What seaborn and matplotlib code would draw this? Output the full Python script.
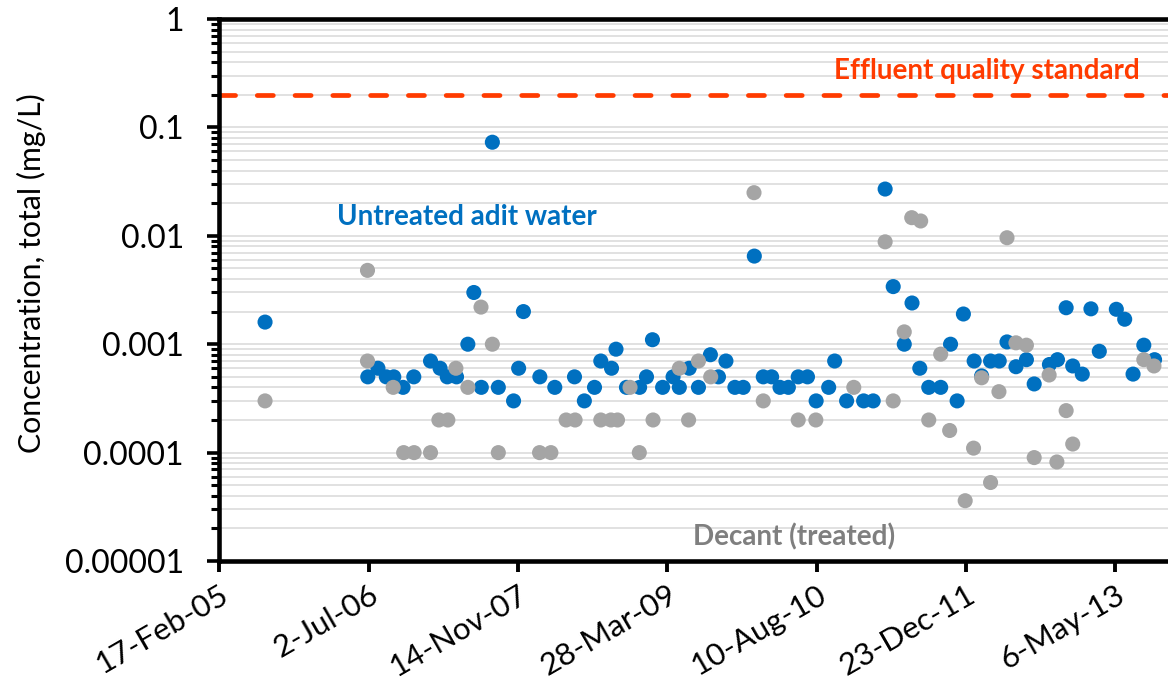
import matplotlib
matplotlib.use("Agg")
import matplotlib.pyplot as plt
import matplotlib.dates as mdates
from matplotlib.ticker import LogLocator, FuncFormatter, NullFormatter, FixedLocator
import numpy as np
import pandas as pd
import seaborn as sns

# ---- data -------------------------------------------------------------
untreated_dates = [
    "2005-07-20", "2006-06-29", "2006-08-02", "2006-08-30", "2006-09-24", "2006-10-25",
    "2006-11-30", "2007-01-25", "2007-02-26", "2007-03-22", "2007-04-22", "2007-05-30",
    "2007-06-19", "2007-07-14", "2007-08-20", "2007-09-09", "2007-10-30", "2007-11-16",
    "2007-12-02", "2008-01-26", "2008-03-16", "2008-05-21", "2008-06-23", "2008-07-27",
    "2008-08-17", "2008-09-22", "2008-10-07", "2008-11-11", "2008-12-25", "2009-01-17",
    "2009-02-06", "2009-03-12", "2009-04-16", "2009-05-07", "2009-06-09", "2009-07-10",
    "2009-08-19", "2009-09-15", "2009-10-10", "2009-11-09", "2009-12-07", "2010-01-13",
    "2010-02-12", "2010-03-12", "2010-04-09", "2010-05-07", "2010-06-09", "2010-07-10",
    "2010-08-08", "2010-09-19", "2010-10-09", "2010-11-18", "2011-01-14", "2011-02-15",
    "2011-03-27", "2011-04-23", "2011-05-30", "2011-06-25", "2011-07-21", "2011-08-20",
    "2011-09-29", "2011-11-01", "2011-11-23", "2011-12-14", "2012-01-19", "2012-02-13",
    "2012-03-14", "2012-04-12", "2012-05-08", "2012-06-07", "2012-07-12", "2012-08-07",
    "2012-09-27", "2012-10-24", "2012-11-22", "2012-12-14", "2013-01-15", "2013-02-13",
    "2013-03-13", "2013-05-09", "2013-06-06", "2013-07-04", "2013-08-09", "2013-09-14",
]
untreated_values = [
    0.0016, 0.0005, 0.0006, 0.0005, 0.0005, 0.0004,
    0.0005, 0.0007, 0.0006, 0.0005, 0.0005, 0.001,
    0.003, 0.0004, 0.073, 0.0004, 0.0003, 0.0006,
    0.002, 0.0005, 0.0004, 0.0005, 0.0003, 0.0004,
    0.0007, 0.0006, 0.0009, 0.0004, 0.0004, 0.0005,
    0.0011, 0.0004, 0.0005, 0.0004, 0.0006, 0.0004,
    0.0008, 0.0005, 0.0007, 0.0004, 0.0004, 0.0065,
    0.0005, 0.0005, 0.0004, 0.0004, 0.0005, 0.0005,
    0.0003, 0.0004, 0.0007, 0.0003, 0.0003, 0.0003,
    0.027, 0.0034, 0.001, 0.0024, 0.0006, 0.0004,
    0.0004, 0.001, 0.0003, 0.0019, 0.0007, 0.00051,
    0.0007, 0.0007, 0.00105, 0.00062, 0.00072, 0.00043,
    0.00065, 0.00072, 0.00217, 0.00063, 0.00053, 0.00212,
    0.00086, 0.0021, 0.0017, 0.00053, 0.00098, 0.00072,
]

decant_dates = [
    "2005-07-20", "2006-06-28", "2006-06-28", "2006-09-22", "2006-10-27", "2006-12-01",
    "2007-01-25", "2007-02-22", "2007-03-24", "2007-04-20", "2007-05-30", "2007-07-13",
    "2007-08-20", "2007-09-09", "2008-01-25", "2008-03-03", "2008-04-23", "2008-05-23",
    "2008-08-17", "2008-09-20", "2008-10-12", "2008-11-23", "2008-12-24", "2009-02-08",
    "2009-05-07", "2009-06-07", "2009-07-10", "2009-08-20", "2010-01-12", "2010-02-12",
    "2010-06-09", "2010-08-07", "2010-12-12", "2011-03-27", "2011-04-23", "2011-05-30",
    "2011-06-24", "2011-07-24", "2011-08-20", "2011-09-29", "2011-10-29", "2011-12-20",
    "2012-01-17", "2012-02-13", "2012-03-14", "2012-04-11", "2012-05-08", "2012-06-07",
    "2012-07-12", "2012-08-07", "2012-09-26", "2012-10-22", "2012-11-22", "2012-12-14",
    "2013-08-09", "2013-09-12",
]
decant_values = [
    0.0003, 0.0048, 0.0007, 0.0004, 0.0001, 0.0001,
    0.0001, 0.0002, 0.0002, 0.0006, 0.0004, 0.0022,
    0.001, 0.0001, 0.0001, 0.0001, 0.0002, 0.0002,
    0.0002, 0.0002, 0.0002, 0.0004, 0.0001, 0.0002,
    0.0006, 0.0002, 0.0007, 0.0005, 0.025, 0.0003,
    0.0002, 0.0002, 0.0004, 0.0088, 0.0003, 0.0013,
    0.0147, 0.0137, 0.0002, 0.00081, 0.00016, 0.000036,
    0.00011, 0.00049, 0.000053, 0.000365, 0.0096, 0.00103,
    0.00098, 0.00009, 0.00052, 0.000082, 0.000244, 0.00012,
    0.00072, 0.00063,
]

series_names = ["Untreated adit water", "Decant (treated)"]
series_colors = ["#0070C0", "#A5A5A5"]
standard_label = "Effluent quality standard"
standard_value = 0.2
y_label = "Concentration, total (mg/L)"

axis_start = "2005-02-17"
axis_end = "2013-10-29"
tick_step_days = 500
y_min, y_max = 1e-5, 1.0

# ---- frame ------------------------------------------------------------
df = pd.concat([
    pd.DataFrame({"date": pd.to_datetime(untreated_dates), "value": untreated_values,
                  "series": series_names[0]}),
    pd.DataFrame({"date": pd.to_datetime(decant_dates), "value": decant_values,
                  "series": series_names[1]}),
], ignore_index=True)

sns.set_theme(style="white")
plt.rcParams["font.family"] = ["Lato", "DejaVu Sans"]

fig = plt.figure(figsize=(11.68, 6.91), dpi=100)
ax = fig.add_axes([0.1878, 0.1881, 0.8122, 0.7844])

ax.set_yscale("log")
ax.set_ylim(y_min, y_max)
start = pd.Timestamp(axis_start)
ax.set_xlim(start, pd.Timestamp(axis_end))


def decimal_label(v, _pos=None):
    """Plain decimal text for a power of ten: 1, 0.1, 0.01, ..."""
    places = max(0, -int(round(np.log10(v))))
    return f"{v:.{places}f}"


# grid on every decade and sub-decade
ax.yaxis.set_major_locator(LogLocator(base=10, numticks=10))
ax.yaxis.set_minor_locator(LogLocator(base=10, subs=np.arange(2, 10), numticks=20))
ax.yaxis.set_major_formatter(FuncFormatter(decimal_label))
ax.yaxis.set_minor_formatter(NullFormatter())
ax.grid(which="both", axis="y", color="#D9D9D9", linewidth=1.1)
ax.grid(which="both", axis="x", visible=False)
ax.set_axisbelow(True)

# effluent standard
ax.axhline(standard_value, color="#FF3B00", linewidth=3.4, dashes=(3.4, 4.6),
           dash_capstyle="round", zorder=2)

sns.scatterplot(data=df, x="date", y="value", hue="series", hue_order=series_names,
                palette=series_colors, s=118, linewidth=0, alpha=1, legend=False,
                ax=ax, zorder=3)

# date ticks every 500 days
ticks = [start + pd.Timedelta(days=tick_step_days * i) for i in range(7)]
ax.xaxis.set_major_locator(FixedLocator(mdates.date2num(ticks)))
ax.xaxis.set_major_formatter(FuncFormatter(
    lambda v, _: (lambda d: f"{d.day}-{d.strftime('%b-%y')}")(mdates.num2date(v))))
plt.setp(ax.get_xticklabels(), rotation=30, ha="right", rotation_mode="anchor")

ax.set_xlabel("")
ax.set_ylabel(y_label, fontsize=21.8, color="black")
ax.yaxis.set_label_coords(-0.183, 0.531)

ax.tick_params(axis="y", which="major", direction="out", length=8.6, width=2.6,
               color="black", pad=17, labelsize=23, labelcolor="black", left=True)
ax.tick_params(axis="y", which="minor", direction="out", length=6, width=2.2,
               color="black", left=True)
ax.tick_params(axis="x", which="major", direction="out", length=8, width=2.8,
               color="black", pad=6, labelsize=22.5, labelcolor="black", bottom=True)

for side in ["left", "bottom", "top"]:
    ax.spines[side].set_visible(True)
    ax.spines[side].set_color("black")
    ax.spines[side].set_linewidth(3.3)
ax.spines["right"].set_visible(False)

# series labels
ax.text(0.2606, 0.620, series_names[0], transform=ax.transAxes, ha="center",
        va="baseline", fontsize=20, fontweight="bold", color=series_colors[0])
ax.text(0.6058, 0.028, series_names[1], transform=ax.transAxes, ha="center",
        va="baseline", fontsize=20, fontweight="bold", color="#7F7F7F")
ax.text(0.809, 0.889, standard_label, transform=ax.transAxes, ha="center",
        va="baseline", fontsize=20, fontweight="bold", color="#FF3B00")

fig.savefig("out.png", dpi=100)
